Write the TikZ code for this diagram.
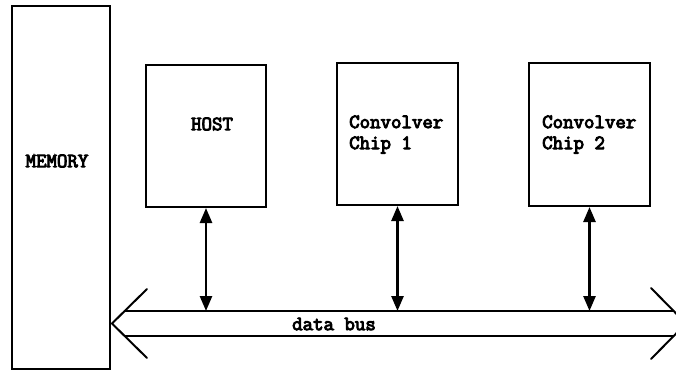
\documentclass[tikz,border=0pt]{standalone}
\usepackage{fontspec}
\setmonofont[AutoFakeBold=4.5]{Latin Modern Mono}
\usetikzlibrary{arrows.meta}
\begin{document}
\begin{tikzpicture}[x=1pt,y=-1pt,
  unit/.style={draw,line width=2pt,inner sep=0pt},
  lbl/.style={font=\ttfamily\bfseries\fontsize{20.3}{21}\selectfont,align=left,inner sep=0pt},
  link/.style={line width=2.6pt,{Triangle[width=12pt,length=15pt]}-{Triangle[width=12pt,length=15pt]}},
  busline/.style={line width=2pt,line cap=round,line join=miter}]
\fill[white] (0,0) rectangle (676,373);
\clip (0,0) rectangle (676,373);

% functional units
\node[unit,minimum width=98pt,minimum height=363pt] (mem) at (61,187.5) {};
\node[unit,minimum width=120pt,minimum height=142pt] (host) at (206,136) {};
\node[unit,minimum width=121pt,minimum height=142pt] (chipA) at (397.5,134) {};
\node[unit,minimum width=121pt,minimum height=143pt] (chipB) at (589.5,134.5) {};

% unit labels
\node[lbl] (memtext) at (57,161) {MEMORY};
\node[lbl] (hosttext) at (212,124) {HOST};
\node[lbl,anchor=west] (chipAtext) at (349,134.5) {Convolver\\Chip 1};
\node[lbl,anchor=west] (chipBtext) at (542,134.5) {Convolver\\Chip 2};

% data bus drawn as a wide double-headed arrow
\coordinate (tipL) at (112,323.5);
\coordinate (tipR) at (686,323.5);
\coordinate (busTL) at (124.7,311);
\coordinate (busBL) at (124.7,336);
\coordinate (busTR) at (673.3,311);
\coordinate (busBR) at (673.3,336);
\coordinate (bustop) at (400,311);
\draw[busline] (147,289) -- (tipL) -- (147,358);
\draw[busline] (651,288) -- (tipR) -- (651,359);
\draw[busline] (busTL) -- (busTR);
\draw[busline] (busBL) -- (busBR);
\node[lbl] (bustext) at (334,324) {data bus};

% connections between the units and the bus
\draw[link] (host.south) -- (host.south |- bustop);
\draw[link] (chipA.south) -- (chipA.south |- bustop);
\draw[link] (chipB.south) -- (chipB.south |- bustop);
\end{tikzpicture}
\end{document}
